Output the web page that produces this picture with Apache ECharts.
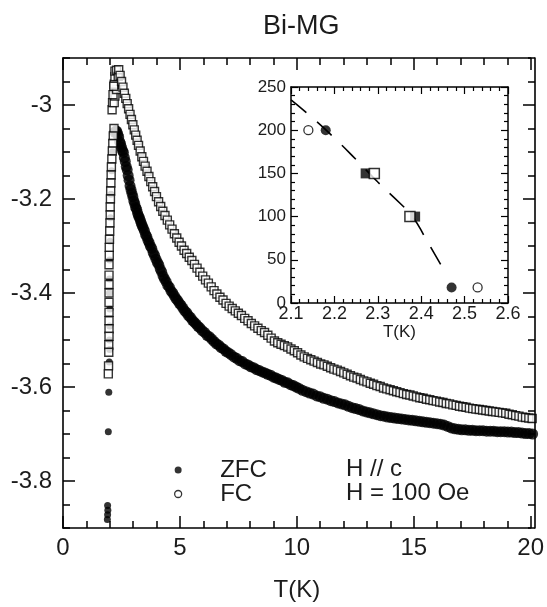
<!DOCTYPE html>
<html><head><meta charset="utf-8">
<script src="https://cdn.jsdelivr.net/npm/echarts@6/dist/echarts.min.js"></script>
<style>html,body{margin:0;padding:0;background:#fff}#c{width:547px;height:607px}</style>
</head><body><div id="c"></div>
<script>
// ---------- data ----------
const chartTitle = 'Bi-MG';
const xName = 'T(K)';
const mainYMajor = [-3.8, -3.6, -3.4, -3.2, -3];
const legendNames = ['ZFC', 'FC'];
const noteLines = ['H // c', 'H = 100 Oe'];

// ZFC (filled circles): sparse rising column near Tc
const zfcRise = [[1.88,-3.882],[1.89,-3.872],[1.90,-3.862],[1.89,-3.852],[1.92,-3.695],[1.94,-3.611],
  [1.96,-3.547],[1.98,-3.520],[1.97,-3.500],[1.98,-3.470],[1.99,-3.434],[1.97,-3.400],[1.97,-3.370],
  [1.98,-3.330],[1.99,-3.290],[2.01,-3.240],[2.03,-3.190],[2.06,-3.140],[2.10,-3.100]];
// ZFC (filled circles): dense band after the peak
const zfcFall = [[2.20,-3.058],[2.24,-3.055],[2.28,-3.056],[2.32,-3.062],[2.36,-3.068],[2.40,-3.078],[2.44,-3.083],
  [2.48,-3.090],[2.52,-3.097],[2.56,-3.101],[2.60,-3.112],[2.64,-3.120],[2.68,-3.131],[2.72,-3.138],[2.76,-3.150],
  [2.80,-3.160],[2.84,-3.172],[2.88,-3.180],[2.92,-3.188],[2.96,-3.195],[3.00,-3.204],[3.04,-3.210],[3.08,-3.218],
  [3.12,-3.222],[3.16,-3.230],[3.20,-3.236],[3.24,-3.240],[3.28,-3.246],[3.32,-3.252],[3.36,-3.257],[3.40,-3.262],
  [3.45,-3.268],[3.50,-3.276],[3.55,-3.280],[3.60,-3.288],[3.65,-3.293],[3.70,-3.300],[3.76,-3.305],[3.82,-3.314],
  [3.88,-3.320],[3.94,-3.328],[4.00,-3.335],[4.06,-3.340],[4.12,-3.349],[4.18,-3.355],[4.24,-3.364],[4.30,-3.370],
  [4.37,-3.376],[4.44,-3.384],[4.51,-3.388],[4.58,-3.396],[4.65,-3.400],[4.72,-3.406],[4.79,-3.412],[4.86,-3.416],
  [4.93,-3.422],[5.00,-3.426],[5.08,-3.432],[5.16,-3.438],[5.24,-3.442],[5.32,-3.448],[5.40,-3.452],[5.48,-3.458],
  [5.56,-3.462],[5.64,-3.466],[5.72,-3.471],[5.80,-3.474],[5.90,-3.480],[6.00,-3.484],[6.10,-3.490],[6.20,-3.493],
  [6.30,-3.498],[6.40,-3.503],[6.50,-3.508],[6.60,-3.511],[6.70,-3.516],[6.80,-3.519],[6.90,-3.524],[7.00,-3.527],
  [7.12,-3.531],[7.24,-3.536],[7.36,-3.539],[7.48,-3.544],[7.60,-3.546],[7.72,-3.551],[7.84,-3.553],[7.96,-3.557],
  [8.08,-3.559],[8.20,-3.563],[8.32,-3.565],[8.44,-3.568],[8.56,-3.570],[8.68,-3.573],[8.80,-3.575],[8.92,-3.579],
  [9.04,-3.581],[9.16,-3.584],[9.28,-3.586],[9.40,-3.590],[9.52,-3.591],[9.64,-3.595],[9.76,-3.597],[9.88,-3.600],
  [10.00,-3.603],[10.15,-3.607],[10.30,-3.610],[10.45,-3.613],[10.60,-3.615],[10.75,-3.619],[10.90,-3.621],
  [11.05,-3.624],[11.20,-3.626],[11.35,-3.629],[11.50,-3.631],[11.65,-3.634],[11.80,-3.636],[11.95,-3.638],
  [12.10,-3.641],[12.25,-3.644],[12.40,-3.646],[12.55,-3.648],[12.70,-3.651],[12.85,-3.653],[13.00,-3.655],
  [13.15,-3.657],[13.30,-3.659],[13.45,-3.661],[13.60,-3.662],[13.75,-3.664],[13.90,-3.665],[14.05,-3.666],
  [14.20,-3.667],[14.35,-3.668],[14.50,-3.669],[14.65,-3.670],[14.80,-3.671],[14.95,-3.672],[15.10,-3.673],
  [15.25,-3.674],[15.40,-3.675],[15.55,-3.676],[15.70,-3.677],[15.85,-3.678],[16.00,-3.679],[16.15,-3.681],
  [16.30,-3.684],[16.45,-3.687],[16.60,-3.689],[16.75,-3.690],[16.90,-3.691],[17.05,-3.691],[17.20,-3.692],
  [17.35,-3.692],[17.50,-3.693],[17.65,-3.693],[17.80,-3.693],[17.95,-3.694],[18.10,-3.694],[18.25,-3.694],
  [18.40,-3.695],[18.55,-3.695],[18.70,-3.695],[18.85,-3.696],[19.00,-3.696],[19.15,-3.697],[19.30,-3.697],
  [19.45,-3.698],[19.60,-3.699],[19.75,-3.699],[19.90,-3.700],[20.05,-3.701]];
// FC (open squares): column near Tc
const fcColumn = [[2.16,-3.050],[2.13,-3.066],[2.11,-3.082],[2.09,-3.098],[2.07,-3.115],[2.05,-3.132],[2.04,-3.149],
  [2.03,-3.166],[2.02,-3.183],[2.01,-3.200],[2.00,-3.217],[2.00,-3.234],[1.99,-3.251],[1.98,-3.268],[1.97,-3.286],
  [1.96,-3.303],[1.96,-3.320],[1.95,-3.340],[1.95,-3.362],[1.95,-3.382],[1.95,-3.400],[1.95,-3.420],[1.95,-3.441],
  [1.95,-3.459],[1.95,-3.476],[1.95,-3.492],[1.94,-3.510],[1.94,-3.526],[1.93,-3.555],[1.92,-3.572]];
// FC (open squares): upper branch, peak and decay
const fcFall = [[2.08,-3.010],[2.10,-2.995],[2.17,-2.995],[2.20,-2.981],[2.12,-2.978],[2.27,-2.967],[2.17,-2.956],
  [2.15,-2.960],[2.20,-2.940],[2.20,-2.928],[2.27,-2.926],[2.34,-2.939],[2.36,-2.925],[2.42,-2.937],[2.48,-2.950],
  [2.54,-2.962],[2.60,-2.975],[2.66,-2.986],[2.72,-2.997],[2.78,-3.008],[2.84,-3.020],[2.90,-3.031],[2.96,-3.042],
  [3.02,-3.053],[3.08,-3.064],[3.14,-3.075],[3.20,-3.086],[3.27,-3.098],[3.34,-3.110],[3.41,-3.120],[3.48,-3.130],
  [3.56,-3.141],[3.64,-3.152],[3.72,-3.163],[3.80,-3.174],[3.88,-3.184],[3.96,-3.195],[4.05,-3.206],[4.14,-3.216],
  [4.23,-3.226],[4.32,-3.235],[4.42,-3.245],[4.52,-3.255],[4.62,-3.264],[4.72,-3.274],[4.82,-3.283],[4.92,-3.292],
  [5.02,-3.300],[5.13,-3.309],[5.24,-3.316],[5.35,-3.324],[5.46,-3.331],[5.57,-3.339],[5.68,-3.347],[5.80,-3.356],
  [5.92,-3.364],[6.04,-3.372],[6.16,-3.379],[6.28,-3.387],[6.40,-3.395],[6.52,-3.402],[6.65,-3.409],[6.78,-3.415],
  [6.91,-3.422],[7.04,-3.428],[7.17,-3.433],[7.30,-3.438],[7.43,-3.443],[7.56,-3.448],[7.70,-3.454],[7.84,-3.459],
  [7.98,-3.465],[8.12,-3.470],[8.26,-3.475],[8.40,-3.480],[8.54,-3.484],[8.68,-3.490],[8.82,-3.496],[8.96,-3.502],
  [9.10,-3.506],[9.24,-3.509],[9.38,-3.512],[9.52,-3.515],[9.66,-3.519],[9.80,-3.523],[9.94,-3.527],[10.08,-3.532],
  [10.22,-3.536],[10.36,-3.539],[10.50,-3.542],[10.64,-3.545],[10.78,-3.548],[10.92,-3.551],[11.06,-3.553],
  [11.20,-3.556],[11.34,-3.559],[11.48,-3.562],[11.62,-3.564],[11.76,-3.567],[11.90,-3.570],[12.04,-3.573],
  [12.18,-3.576],[12.32,-3.579],[12.46,-3.581],[12.60,-3.584],[12.74,-3.587],[12.88,-3.589],[13.02,-3.592],
  [13.16,-3.594],[13.30,-3.597],[13.44,-3.599],[13.58,-3.602],[13.72,-3.604],[13.86,-3.606],[14.00,-3.608],
  [14.14,-3.610],[14.28,-3.612],[14.42,-3.614],[14.56,-3.616],[14.70,-3.617],[14.84,-3.619],[14.98,-3.621],
  [15.12,-3.623],[15.26,-3.624],[15.40,-3.626],[15.54,-3.627],[15.68,-3.629],[15.82,-3.630],[15.96,-3.632],
  [16.10,-3.633],[16.24,-3.635],[16.38,-3.636],[16.52,-3.638],[16.66,-3.639],[16.80,-3.641],[16.94,-3.642],
  [17.08,-3.643],[17.22,-3.645],[17.36,-3.646],[17.50,-3.647],[17.64,-3.648],[17.78,-3.649],[17.92,-3.650],
  [18.06,-3.651],[18.20,-3.652],[18.34,-3.653],[18.48,-3.654],[18.62,-3.655],[18.76,-3.656],[18.90,-3.658],
  [19.04,-3.659],[19.18,-3.661],[19.32,-3.662],[19.46,-3.664],[19.60,-3.665],[19.74,-3.666],[19.88,-3.667],
  [20.02,-3.669]];

// Inset: H (Oe) versus T (K)
const insetZfcCircles = [[2.18,200],[2.47,18]];
const insetFcCircles = [[2.14,200],[2.53,18]];
const insetZfcSquares = [[2.272,150],[2.386,100]];
const insetFcSquares = [[2.292,150],[2.374,100]];
const insetBoundary = [[2.10,235],[2.15,214],[2.20,191],[2.25,166],[2.30,140],[2.35,116],[2.38,100],[2.41,75],[2.45,40]];

// ---------- chart ----------
const FONT = '"Liberation Sans", Arial, sans-serif';
const TXT = '#1c1c1c';
const BLK = '#000';

function tick(len, w) { return {show: true, inside: true, length: len, lineStyle: {color: BLK, width: w}}; }
function minor(split, len, w) { return {show: true, splitNumber: split, length: len, lineStyle: {color: BLK, width: w}}; }
function valAxis(o) {
  return Object.assign({
    type: 'value', splitLine: {show: false},
    axisLine: {show: true, onZero: false, lineStyle: {color: BLK, width: 1.6}},
    axisTick: tick(12, 1.5),
    minorTick: {show: false},
    axisLabel: {show: false},
    z: 10
  }, o);
}
const MAIN_RECT = {left: 63, top: 58, width: 472, height: 470};

const xAxis = [
  // 0: hidden data axis of the main grid
  {gridIndex: 0, type: 'value', min: 0, max: 20, show: false},
  // 1: main bottom axis (own overlay grid)
  valAxis({gridIndex: 2, position: 'bottom', min: 0, max: 20, interval: 5,
    axisTick: tick(12, 1.5), minorTick: minor(5, 7, 1.5),
    axisLabel: {show: true, color: TXT, fontFamily: FONT, fontSize: 24, margin: 8},
    name: xName, nameLocation: 'middle', nameGap: 50,
    nameTextStyle: {color: TXT, fontFamily: FONT, fontSize: 24}}),
  // 2: main top mirror
  valAxis({gridIndex: 2, position: 'top', min: 0, max: 20, interval: 5,
    axisTick: tick(12, 1.5), minorTick: minor(5, 7, 1.5)}),
  // 3,4: inset
  valAxis({gridIndex: 1, position: 'bottom', min: 2.1, max: 2.6, interval: 0.1,
    axisLine: {show: true, onZero: false, lineStyle: {color: BLK, width: 1.5}},
    axisTick: tick(7, 1.2), minorTick: minor(5, 4, 1.2),
    axisLabel: {show: true, color: TXT, fontFamily: FONT, fontSize: 18, margin: 2},
    name: xName, nameLocation: 'middle', nameGap: 19,
    nameTextStyle: {color: TXT, fontFamily: FONT, fontSize: 17}}),
  valAxis({gridIndex: 1, position: 'top', min: 2.1, max: 2.6, interval: 0.1,
    axisLine: {show: true, onZero: false, lineStyle: {color: BLK, width: 1.5}},
    axisTick: tick(7, 1.2), minorTick: minor(5, 4, 1.2)})
];

const yAxis = [
  valAxis({gridIndex: 0, position: 'left', min: -3.9, max: -2.9, interval: 0.05, axisTick: tick(7, 1.5)}),
  valAxis({gridIndex: 0, position: 'left', min: -3.9, max: -2.9, axisLine: {show: false},
    axisTick: Object.assign(tick(12, 1.5), {customValues: mainYMajor}),
    axisLabel: {show: true, color: TXT, fontFamily: FONT, fontSize: 24, margin: 11, customValues: mainYMajor}}),
  valAxis({gridIndex: 0, position: 'right', min: -3.9, max: -2.9, interval: 0.05, axisTick: tick(7, 1.5)}),
  valAxis({gridIndex: 0, position: 'right', min: -3.9, max: -2.9, axisLine: {show: false},
    axisTick: Object.assign(tick(12, 1.5), {customValues: mainYMajor})}),
  valAxis({gridIndex: 1, position: 'left', min: 0, max: 250, interval: 50,
    axisLine: {show: true, onZero: false, lineStyle: {color: BLK, width: 1.5}},
    axisTick: tick(7, 1.2), minorTick: minor(5, 4, 1.2),
    axisLabel: {show: true, color: TXT, fontFamily: FONT, fontSize: 17, margin: 5}}),
  valAxis({gridIndex: 1, position: 'right', min: 0, max: 250, interval: 50,
    axisLine: {show: true, onZero: false, lineStyle: {color: BLK, width: 1.5}},
    axisTick: tick(7, 1.2), minorTick: minor(5, 4, 1.2)}),
  // 6: hidden companion of the overlay grid
  {gridIndex: 2, type: 'value', min: 0, max: 1, show: false}
];

const openStyle = {color: '#fff', borderColor: BLK, borderWidth: 1.4};
const fillStyle = {color: BLK};

const option = {
  animation: false,
  backgroundColor: '#fff',
  title: {text: chartTitle, left: 258, top: 8,
    textStyle: {fontFamily: FONT, fontSize: 27, fontWeight: 'normal', color: TXT}},
  grid: [
    Object.assign({show: false}, MAIN_RECT),
    {left: 291, top: 87, width: 217, height: 216, show: false},
    Object.assign({show: false}, MAIN_RECT)
  ],
  xAxis: xAxis,
  yAxis: yAxis,
  legend: {
    left: 174, top: 458, orient: 'vertical', itemGap: 0, itemWidth: 74, itemHeight: 7, padding: 0,
    selectedMode: false,
    data: [
      {name: legendNames[0], icon: 'circle', itemStyle: fillStyle},
      {name: legendNames[1], icon: 'circle', itemStyle: {color: '#fff', borderColor: BLK, borderWidth: 1.3}}
    ],
    textStyle: {fontFamily: FONT, fontSize: 24, color: TXT, lineHeight: 24}
  },
  graphic: [
    {type: 'text', x: 346, y: 469, style: {text: noteLines[0], fontFamily: FONT, fontSize: 24, fill: TXT, verticalAlign: 'middle'}},
    {type: 'text', x: 346, y: 493, style: {text: noteLines[1], fontFamily: FONT, fontSize: 24, fill: TXT, verticalAlign: 'middle'}}
  ],
  series: [
    {name: legendNames[0], type: 'scatter', xAxisIndex: 0, yAxisIndex: 1, data: zfcRise,
      symbol: 'circle', symbolSize: 7, itemStyle: fillStyle, z: 2},
    {name: legendNames[0], type: 'scatter', xAxisIndex: 0, yAxisIndex: 1, data: zfcFall,
      symbol: 'circle', symbolSize: 11, itemStyle: fillStyle, z: 2},
    {name: legendNames[1], type: 'scatter', xAxisIndex: 0, yAxisIndex: 1, data: fcColumn,
      symbol: 'rect', symbolSize: 8, itemStyle: openStyle, z: 3},
    {name: legendNames[1], type: 'scatter', xAxisIndex: 0, yAxisIndex: 1, data: fcFall,
      symbol: 'rect', symbolSize: 8, itemStyle: openStyle, z: 3},
    {name: 'boundary', type: 'line', xAxisIndex: 3, yAxisIndex: 4, data: insetBoundary, smooth: true,
      showSymbol: false, lineStyle: {color: BLK, width: 1.6, type: [20, 14]}, z: 6},
    {name: 'zfcSq', type: 'scatter', xAxisIndex: 3, yAxisIndex: 4, data: insetZfcSquares,
      symbol: 'rect', symbolSize: 10, itemStyle: fillStyle, z: 7},
    {name: 'fcSq', type: 'scatter', xAxisIndex: 3, yAxisIndex: 4, data: insetFcSquares,
      symbol: 'rect', symbolSize: 10, itemStyle: {color: '#fff', borderColor: BLK, borderWidth: 1.5}, z: 8},
    {name: 'zfcC', type: 'scatter', xAxisIndex: 3, yAxisIndex: 4, data: insetZfcCircles,
      symbol: 'circle', symbolSize: 10, itemStyle: fillStyle, z: 7},
    {name: 'fcC', type: 'scatter', xAxisIndex: 3, yAxisIndex: 4, data: insetFcCircles,
      symbol: 'circle', symbolSize: 9, itemStyle: {color: '#fff', borderColor: BLK, borderWidth: 1.3}, z: 7}
  ]
};

const chart = echarts.init(document.getElementById('c'));
chart.setOption(option);
</script>
</body></html>
